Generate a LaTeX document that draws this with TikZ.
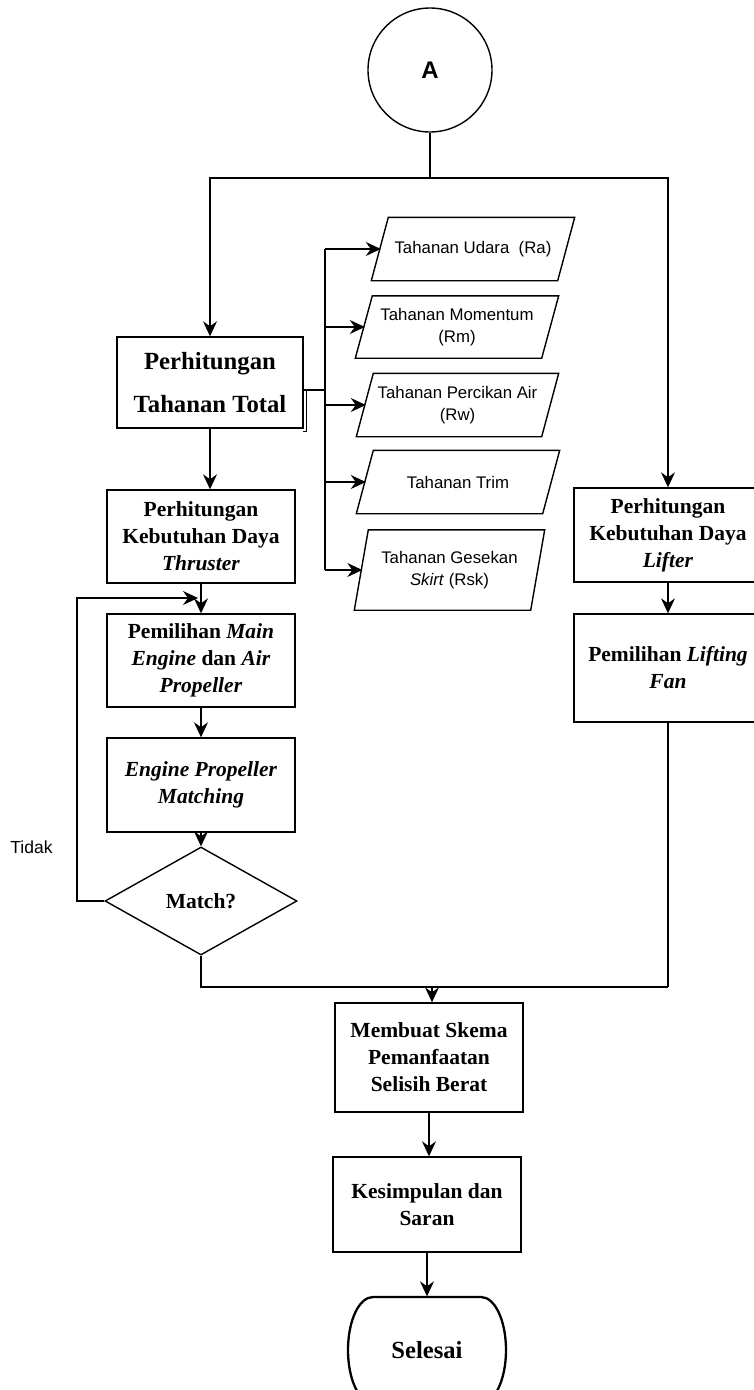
\documentclass[tikz,border=0pt]{standalone}
\usepackage{fontspec}
\setmainfont{Liberation Serif}
\setsansfont{Liberation Sans}
\usetikzlibrary{shapes.geometric,arrows.meta,calc}
\begin{document}
\begin{tikzpicture}[x=1pt,y=-1pt,
  line width=1.4pt,
  arr/.style={-{Stealth[length=15pt,width=14pt,inset=5pt]}},
  box/.style={draw, rectangle, align=center, inner sep=2pt,
    font=\fontsize{21.5}{27}\selectfont\bfseries},
  para/.style={align=center, inner sep=0pt,
    font=\sffamily\fontsize{16.8}{22}\selectfont},
]
\useasboundingbox (0,0) rectangle (753,1390);

% nodes
\node[draw, circle, minimum size=124pt, inner sep=0pt,
  font=\sffamily\bfseries\fontsize{24}{26}\selectfont] (A) at (430,70) {A};
\node[box, minimum width=186pt, minimum height=91pt,
  font=\fontsize{24.7}{43}\selectfont\bfseries] (tt) at (210,382.5) {Perhitungan\\Tahanan Total};
\node[box, minimum width=188pt, minimum height=93pt] (thr) at (201,536.5)
  {Perhitungan\\Kebutuhan Daya\\\textit{Thruster}};
\node[box, minimum width=188pt, minimum height=93pt] (me) at (201,660.5)
  {Pemilihan \textit{Main}\\\textit{Engine} dan \textit{Air}\\\textit{Propeller}};
\node[box, minimum width=188pt, minimum height=94pt] (epm) at (201,785)
  {\textit{Engine Propeller}\\\textit{Matching}};
\node[draw, diamond, aspect=1.78, minimum width=192pt, minimum height=108pt,
  inner sep=0pt, font=\fontsize{21.5}{27}\selectfont\bfseries] (match) at (201,901) {Match?};
\node[box, minimum width=188pt, minimum height=94pt] (lifter) at (668,535)
  {Perhitungan\\Kebutuhan Daya\\\textit{Lifter}};
\node[box, minimum width=188pt, minimum height=108pt] (fan) at (668,668)
  {Pemilihan \textit{Lifting}\\\textit{Fan}};
\node[box, minimum width=188pt, minimum height=109pt] (mem) at (429,1057.5)
  {Membuat Skema\\Pemanfaatan\\Selisih Berat};
\node[box, minimum width=188pt, minimum height=95pt] (kes) at (427,1204.5)
  {Kesimpulan dan\\Saran};
\node[minimum width=158pt, minimum height=106pt, inner sep=0pt,
  font=\fontsize{24.6}{28}\selectfont\bfseries] (sel) at (427,1350) {Selesai};
\begin{scope}[shift={(sel.center)}]
  \draw[line width=2.3pt] (-54,-53) -- (54,-53)
    .. controls (68,-53) and (79,-29.3) .. (79,0)
    .. controls (79,29.3) and (68,53) .. (54,53)
    -- (-54,53)
    .. controls (-68,53) and (-79,29.3) .. (-79,0)
    .. controls (-79,-29.3) and (-68,-53) .. (-54,-53) -- cycle;
\end{scope}

% parallelograms
\node[para, minimum width=185pt, minimum height=62pt] (ra) at (473,249) {Tahanan Udara\ \ (Ra)};
\node[para, minimum width=185pt, minimum height=61pt] (rm) at (457,327) {Tahanan Momentum\\(Rm)};
\node[para, minimum width=184pt, minimum height=62pt] (rw) at (457.5,405) {Tahanan Percikan Air\\(Rw)};
\node[para, minimum width=185pt, minimum height=62pt] (rt) at (458,482) {Tahanan Trim};
\node[para, minimum width=175pt, minimum height=79pt] (rsk) at (449.5,570) {Tahanan Gesekan\\\textit{Skirt} (Rsk)};
\foreach \n/\s in {ra/8.5,rm/8.5,rw/8.5,rt/8.5,rsk/7}
  \draw ([xshift=-\s pt]\n.south west) -- ([xshift=-\s pt]\n.south east)
    -- ([xshift=\s pt]\n.north east) -- ([xshift=\s pt]\n.north west) -- cycle;

\node[font=\sffamily\fontsize{17.5}{20}\selectfont, inner sep=0pt] (tidak) at (31.5,847) {Tidak};

% connectors
\coordinate (j1) at (430,178);
\draw (A.south) -- (j1);
\draw[arr] (j1) -| (tt.north);
\draw[arr] (j1) -| (lifter.north);

\coordinate (ttc) at (303,390);
\coordinate (tr) at (325,390);
\draw (ttc) -- (tr);
\draw[line width=1pt] (ttc) -- ++(3,0) -- ++(0,41) -- ++(-3,0);
\draw (ra.west -| tr) -- (rsk.west -| tr);
\foreach \n in {ra,rm,rw,rt,rsk}
  \draw[arr] (\n.west -| tr) -- ([xshift=1pt]\n.west);

\draw[arr] (tt.south) -- (tt.south |- thr.north);
\draw[arr] (thr.south) -- (thr.south |- me.north);
\draw[arr] (me.south) -- (epm.north);
\draw[arr] (epm.south) -- (match.north);

\coordinate (lp) at (77,901);
\coordinate (lpe) at (198,598);
\draw[arr] (match.west) -- (lp) |- (lpe);

\draw[arr] (lifter.south) -- (fan.north);

\coordinate (mj) at (432,987);
\draw (match.south) |- (fan.south |- mj);
\draw (fan.south) -- (fan.south |- mj);
\draw[arr] (mj) -- (mj |- mem.north);
\draw[arr] (mem.south) -- (mem.south |- kes.north);
\draw[arr] (kes.south) -- (kes.south |- sel.north);
\end{tikzpicture}
\end{document}
